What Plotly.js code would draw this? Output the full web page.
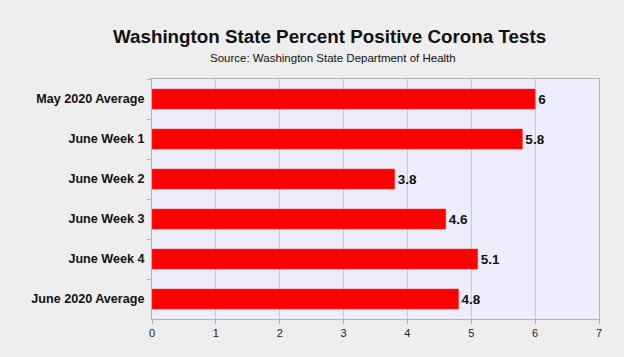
<!DOCTYPE html>
<html><head><meta charset="utf-8">
<script src="https://cdn.plot.ly/plotly-3.0.1.min.js"></script>
<style>html,body{margin:0;padding:0;background:#eeeeee;}</style>
</head><body>
<div id="chart" style="width:624px;height:357px;"></div>
<script>
const categories = ["May 2020 Average","June Week 1","June Week 2","June Week 3","June Week 4","June 2020 Average"];
const values = [6, 5.8, 3.8, 4.6, 5.1, 4.8];
const titleText = "Washington State Percent Positive Corona Tests";
const subtitleText = "Source: Washington State Department of Health";

const font = "Liberation Sans, Arial, sans-serif";
const trace = {
  type: "bar", orientation: "h",
  x: values, y: categories,
  marker: {color: "#ff0000", line: {color: "#ff3030", width: 0.5}},
  width: 0.5,
  text: values.map(v => String(v)),
  textposition: "outside",
  cliponaxis: false,
  textfont: {family: font, size: 13.5, color: "#111111", weight: "bold"},
  hoverinfo: "none"
};
const layout = {
  width: 624, height: 357,
  margin: {l: 152, r: 25, t: 79, b: 38},
  paper_bgcolor: "#eeeeee", plot_bgcolor: "#ededfb",
  showlegend: false,
  xaxis: {range: [0, 7], dtick: 1, showgrid: true, gridcolor: "#c8c8d2", gridwidth: 1,
    zeroline: false, showline: true, linecolor: "#b3b3b3", mirror: true,
    ticks: "outside", ticklen: 4, tickcolor: "#b3b3b3",
    tickfont: {family: font, size: 11, color: "#222222"}, fixedrange: true},
  yaxis: {autorange: "reversed", type: "category", showgrid: false, zeroline: false,
    showline: true, linecolor: "#b3b3b3", mirror: true,
    ticks: "outside", tickson: "boundaries", ticklen: 4, tickcolor: "#b3b3b3",
    tickfont: {family: font, size: 12.6, color: "#111111", weight: "bold"}, ticklabelstandoff: 4},
  annotations: [
    {text: "<b>" + titleText + "</b>", xref: "paper", yref: "paper", x: 0.398, y: 1, yshift: 43,
     xanchor: "center", yanchor: "middle", showarrow: false, font: {family: font, size: 18.8, color: "#111111"}},
    {text: subtitleText, xref: "paper", yref: "paper", x: 0.405, y: 1, yshift: 21,
     xanchor: "center", yanchor: "middle", showarrow: false, font: {family: font, size: 11.5, color: "#111111"}}
  ]
};
Plotly.newPlot("chart", [trace], layout, {displayModeBar: false, staticPlot: true});
</script>
</body></html>
